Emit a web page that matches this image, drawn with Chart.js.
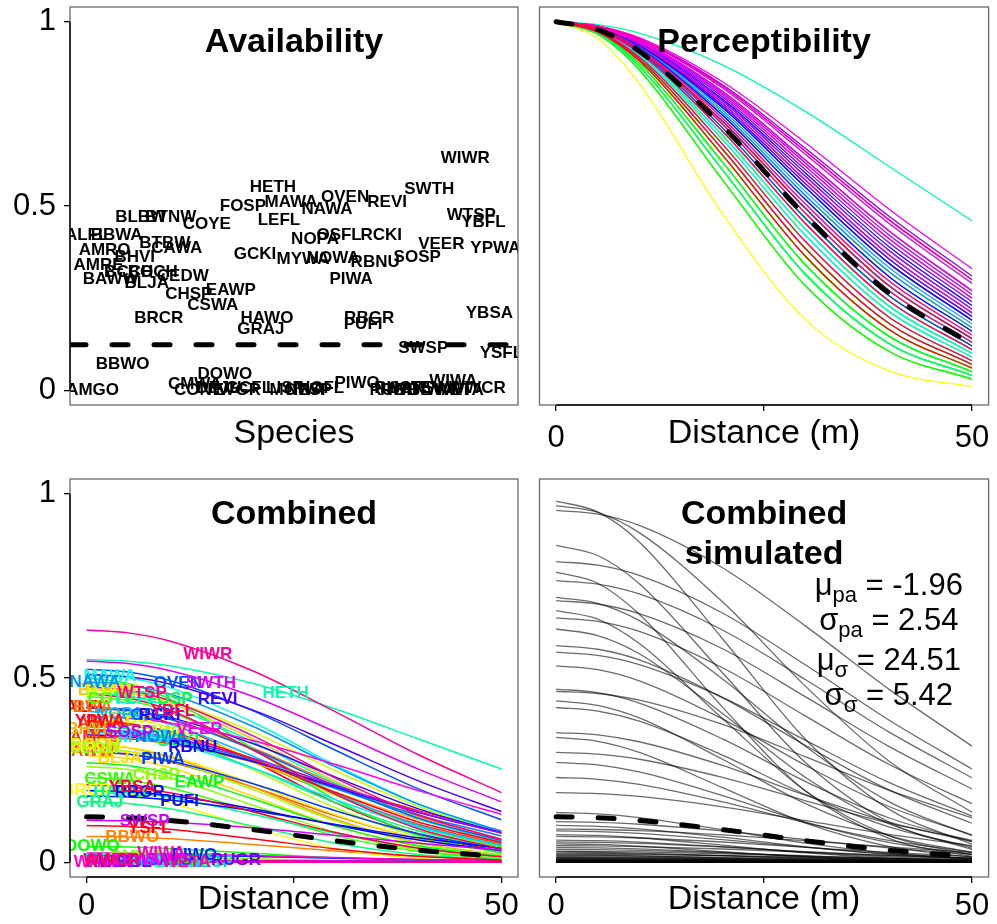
<!DOCTYPE html>
<html>
<head>
<meta charset="utf-8">
<script src="https://cdn.jsdelivr.net/npm/chart.js@4.4.1/dist/chart.umd.min.js"></script>
<style>
  body { margin: 0; background: #fff; }
  #plots { position: relative; width: 997px; height: 924px; }
  #plots canvas { position: absolute; }
</style>
</head>
<body>
<div id="plots">
  <canvas id="avail" width="529" height="462" style="left:0;top:0"></canvas>
  <canvas id="percept" width="468" height="462" style="left:529px;top:0"></canvas>
  <canvas id="combined" width="529" height="462" style="left:0;top:462px"></canvas>
  <canvas id="simulated" width="468" height="462" style="left:529px;top:462px"></canvas>
</div>
<script>
// species codes, in plotting order
const species = ['ALFL','AMGO','AMRE','AMRO','BAWW','BBWA','BBWO','BCCH','BHVI','BLBW',
  'BLJA','BOCH','BRCR','BTBW','BTNW','CAWA','CEDW','CHSP','CMWA','CONW',
  'COYE','CSWA','DEJU','DOWO','EAWP','EVGR','FOSP','GCFL','GCKI','GRAJ',
  'HAWO','HETH','LEFL','LISP','MAWA','MOWA','MYWA','NESP','NOPA','NOFL',
  'NAWA','NOWA','OSFL','OVEN','PIWA','PIWO','PUFI','RBGR','RBNU','RCKI',
  'REVI','RUBL','RUGR','RWBL','SAVS','SOSP','SWSP','SWTH','TEWA','VEER',
  'WAVI','WIWA','WETA','WIWR','WTSP','WWCR','YBFL','YBSA','YPWA','YSFL'];

// probability of availability per species
const avail = [0.42,0.00,0.34,0.38,0.30,0.42,0.07,0.32,0.36,0.47,
  0.29,0.32,0.195,0.40,0.47,0.385,0.31,0.26,0.015,0.00,
  0.45,0.23,0.005,0.043,0.27,0.00,0.50,0.005,0.37,0.165,
  0.195,0.55,0.46,0.005,0.51,0.00,0.354,0.00,0.41,0.005,
  0.49,0.357,0.42,0.524,0.30,0.02,0.18,0.195,0.346,0.42,
  0.51,0.00,0.005,0.00,0.005,0.36,0.114,0.546,0.005,0.395,
  0.00,0.025,0.00,0.63,0.476,0.005,0.457,0.21,0.384,0.10];

// distances (m) at which perceptibility is tabulated
const dist = [0, 5, 10, 20, 30, 40, 50];

// perceptibility per species at each distance
const percept = [
  [1,.974,.899,.654,.384,.182,.070],[1,.978,.915,.703,.452,.243,.110],[1,.986,.946,.801,.607,.412,.250],
  [1,.980,.922,.722,.480,.271,.130],[1,.976,.908,.680,.420,.214,.090],[1,.981,.927,.738,.505,.297,.150],
  [1,.977,.912,.692,.437,.229,.100],[1,.972,.894,.638,.363,.165,.060],[1,.982,.932,.753,.528,.322,.170],
  [1,.979,.919,.712,.466,.257,.120],[1,.970,.887,.619,.340,.147,.050],[1,.975,.904,.668,.403,.199,.080],
  [1,.955,.832,.479,.191,.053,.010],[1,.978,.915,.703,.452,.243,.110],[1,.982,.932,.753,.528,.322,.170],
  [1,.974,.899,.654,.384,.182,.070],[1,.972,.894,.638,.363,.165,.060],[1,.968,.879,.598,.314,.127,.040],
  [1,.970,.887,.619,.340,.147,.050],[1,.966,.869,.571,.283,.106,.030],[1,.976,.908,.680,.420,.214,.090],
  [1,.968,.879,.598,.314,.127,.040],[1,.970,.887,.619,.340,.147,.050],[1,.966,.869,.571,.283,.106,.030],
  [1,.972,.894,.638,.363,.165,.060],[1,.968,.879,.598,.314,.127,.040],[1,.970,.887,.619,.340,.147,.050],
  [1,.974,.899,.654,.384,.182,.070],[1,.977,.912,.692,.437,.229,.100],[1,.968,.879,.598,.314,.127,.040],
  [1,.975,.904,.668,.403,.199,.080],[1,.992,.969,.883,.756,.608,.460],[1,.979,.919,.712,.466,.257,.120],
  [1,.977,.912,.692,.437,.229,.100],[1,.982,.929,.746,.517,.309,.160],[1,.976,.908,.680,.420,.214,.090],
  [1,.980,.922,.722,.480,.271,.130],[1,.981,.924,.730,.493,.284,.140],[1,.978,.915,.703,.452,.243,.110],
  [1,.983,.934,.760,.539,.334,.180],[1,.982,.932,.753,.528,.322,.170],[1,.984,.938,.773,.560,.357,.200],
  [1,.981,.924,.730,.493,.284,.140],[1,.985,.941,.785,.580,.380,.220],[1,.979,.919,.712,.466,.257,.120],
  [1,.984,.936,.767,.550,.345,.190],[1,.984,.940,.779,.570,.368,.210],[1,.982,.929,.746,.517,.309,.160],
  [1,.985,.943,.790,.589,.390,.230],[1,.984,.936,.767,.550,.345,.190],[1,.987,.949,.811,.624,.433,.270],
  [1,.984,.938,.773,.560,.357,.200],[1,.986,.945,.796,.598,.401,.240],[1,.988,.954,.829,.656,.473,.310],
  [1,.987,.948,.806,.616,.422,.260],[1,.985,.941,.785,.580,.380,.220],[1,.988,.952,.820,.640,.453,.290],
  [1,.988,.953,.825,.648,.463,.300],[1,.986,.946,.801,.607,.412,.250],[1,.989,.957,.837,.671,.492,.330],
  [1,.987,.949,.811,.624,.433,.270],[1,.981,.927,.738,.505,.297,.150],[1,.984,.940,.779,.570,.368,.210],
  [1,.988,.953,.825,.648,.463,.300],[1,.980,.922,.722,.480,.271,.130],[1,.978,.915,.703,.452,.243,.110],
  [1,.975,.904,.668,.403,.199,.080],[1,.974,.899,.654,.384,.182,.070],[1,.981,.924,.730,.493,.284,.140],
  [1,.972,.894,.638,.363,.165,.060]];

// community means
const meanAvail = 0.1235;
const meanPercept = [1,.979,.920,.717,.473,.264,.125];

// distance (m) where each species code is written on the combined panel
const labelDist = [0,3,1,2,0,0,5.5,1,0,2, 4,1,0,5,3,9,1,8.4,6,10,
  3,2.8,12,0.7,13.6,8,10,14,11,1.6, 4,24,6,2,2.8,7,7,15,4,9,
  1,9,8,11,9.2,13,11.2,6.4,12.8,8.8, 15.8,5,18,3,10,5.2,7,15,6,13.6,
  1,9,12,14.6,6.7,3,10.4,5.5,1.6,7.6];

// simulated community: availability and perceptibility per species
const simAvail = [0.980,0.968,0.955,0.860,0.816,0.787,0.764,0.719,0.710,0.683,
  0.663,0.633,0.588,0.570,0.533,0.470,0.464,0.438,0.420,0.352,
  0.339,0.298,0.271,0.230,0.189,0.135,0.110,0.100,0.090,0.085,
  0.075,0.070,0.060,0.055,0.050,0.045,0.040,0.035,0.030,0.028,
  0.025,0.022,0.020,0.018,0.015,0.013,0.012,0.010,0.009,0.008,
  0.007,0.006,0.005,0.004,0.004,0.003,0.003,0.002,0.002,0.002,
  0.001,0.001,0.001,0.001,0.0005,0.0005,0.0003,0.0002,0.0001,0.0001];

const simPercept = [
  [1,.970,.887,.619,.340,.147,.050],[1,.981,.924,.730,.493,.284,.140],[1,.989,.957,.837,.671,.492,.330],
  [1,.968,.879,.598,.314,.127,.040],[1,.988,.954,.829,.656,.473,.310],[1,.962,.855,.535,.245,.082,.020],
  [1,.988,.953,.825,.648,.463,.300],[1,.977,.912,.692,.437,.229,.100],[1,.987,.950,.816,.632,.443,.280],
  [1,.966,.869,.571,.283,.106,.030],[1,.986,.945,.796,.598,.401,.240],[1,.972,.894,.638,.363,.165,.060],
  [1,.983,.934,.760,.539,.334,.180],[1,.985,.941,.785,.580,.380,.220],[1,.981,.924,.730,.493,.284,.140],
  [1,.979,.919,.712,.466,.257,.120],[1,.987,.948,.806,.616,.422,.260],[1,.972,.894,.638,.363,.165,.060],
  [1,.977,.912,.692,.437,.229,.100],[1,.982,.929,.746,.517,.309,.160],[1,.968,.879,.598,.314,.127,.040],
  [1,.984,.938,.773,.560,.357,.200],[1,.975,.904,.668,.403,.199,.080],[1,.979,.919,.712,.466,.257,.120],
  [1,.986,.945,.796,.598,.401,.240],[1,.974,.899,.654,.384,.182,.070],[1,.984,.938,.773,.560,.357,.200],
  [1,.976,.908,.680,.420,.214,.090],[1,.988,.953,.825,.648,.463,.300],[1,.980,.922,.722,.480,.271,.130],
  [1,.970,.887,.619,.340,.147,.050],[1,.985,.941,.785,.580,.380,.220],[1,.978,.915,.703,.452,.243,.110],
  [1,.982,.932,.753,.528,.322,.170],[1,.966,.869,.571,.283,.106,.030],[1,.986,.946,.801,.607,.412,.250],
  [1,.975,.904,.668,.403,.199,.080],[1,.981,.927,.738,.505,.297,.150],[1,.984,.936,.767,.550,.345,.190],
  [1,.972,.894,.638,.363,.165,.060],[1,.979,.919,.712,.466,.257,.120],[1,.987,.949,.811,.624,.433,.270],
  [1,.968,.879,.598,.314,.127,.040],[1,.982,.929,.746,.517,.309,.160],[1,.977,.912,.692,.437,.229,.100],
  [1,.984,.940,.779,.570,.368,.210],[1,.974,.899,.654,.384,.182,.070],[1,.981,.924,.730,.493,.284,.140],
  [1,.983,.934,.760,.539,.334,.180],[1,.970,.887,.619,.340,.147,.050],[1,.985,.943,.790,.589,.390,.230],
  [1,.976,.908,.680,.420,.214,.090],[1,.980,.922,.722,.480,.271,.130],[1,.962,.855,.535,.245,.082,.020],
  [1,.982,.932,.753,.528,.322,.170],[1,.978,.915,.703,.452,.243,.110],[1,.988,.952,.820,.640,.453,.290],
  [1,.975,.904,.668,.403,.199,.080],[1,.981,.927,.738,.505,.297,.150],[1,.979,.919,.712,.466,.257,.120],
  [1,.984,.936,.767,.550,.345,.190],[1,.972,.894,.638,.363,.165,.060],[1,.977,.912,.692,.437,.229,.100],
  [1,.986,.946,.801,.607,.412,.250],[1,.981,.924,.730,.493,.284,.140],[1,.976,.908,.680,.420,.214,.090],
  [1,.982,.929,.746,.517,.309,.160],[1,.978,.915,.703,.452,.243,.110],[1,.984,.938,.773,.560,.357,.200],
  [1,.979,.919,.712,.466,.257,.120]];

// hyper-parameters printed on the simulated panel
const statSymbols = ['\u03BC', '\u03C3', '\u03BC', '\u03C3'];
const statSubs = ['pa', 'pa', '\u03C3', '\u03C3'];
const statValues = ['-1.96', '2.54', '24.51', '5.42'];

const FONT = '"Liberation Sans", Arial, Helvetica, sans-serif';
Chart.defaults.font.family = FONT;
Chart.defaults.color = '#000';

const N = species.length;
const hue = i => `hsl(${(i / N) * 360}, 100%, 50%)`;
const curve = row => row.map((v, k) => ({ x: dist[k], y: v }));

function atDist(row, d) {
  let k = 1;
  while (k < dist.length - 1 && dist[k] < d) k++;
  const t = (d - dist[k - 1]) / (dist[k] - dist[k - 1]);
  return row[k - 1] + t * (row[k] - row[k - 1]);
}

const combined = percept.map((row, i) => row.map(p => p * avail[i]));
const meanCombined = meanPercept.map(p => p * meanAvail);
const simCombined = simPercept.map((row, i) => row.map(p => p * simAvail[i]));

// box, axis lines, panel title and optional text block
const frame = {
  id: 'frame',
  afterDraw(chart, args, o) {
    const { ctx, chartArea: a, scales } = chart;
    ctx.save();
    ctx.strokeStyle = '#6a6a6a';
    ctx.lineWidth = 1.3;
    ctx.strokeRect(a.left, a.top, a.right - a.left, a.bottom - a.top);
    ctx.strokeStyle = '#000';
    ctx.lineWidth = 1.4;
    if (o.xAxis) {
      ctx.beginPath();
      ctx.moveTo(scales.x.getPixelForValue(0), a.bottom);
      ctx.lineTo(scales.x.getPixelForValue(50), a.bottom);
      ctx.stroke();
    }
    if (o.yAxis) {
      ctx.beginPath();
      ctx.moveTo(a.left, scales.y.getPixelForValue(0));
      ctx.lineTo(a.left, scales.y.getPixelForValue(1));
      ctx.stroke();
    }
    ctx.fillStyle = '#000';
    ctx.textAlign = 'center';
    ctx.textBaseline = 'alphabetic';
    ctx.font = 'bold 34px ' + FONT;
    o.title.forEach((t, k) => ctx.fillText(t, (a.left + a.right) / 2, a.top + 45 + k * 40));
    if (o.stats) {
      ctx.textAlign = 'left';
      statSymbols.forEach((sym, k) => {
        const big = '31px ' + FONT, small = '22px ' + FONT;
        const rest = ' = ' + statValues[k];
        ctx.font = big;
        const w1 = ctx.measureText(sym).width, w3 = ctx.measureText(rest).width;
        ctx.font = small;
        const w2 = ctx.measureText(statSubs[k]).width;
        let x = scales.x.getPixelForValue(40) - (w1 + w2 + w3) / 2;
        const y = scales.y.getPixelForValue(o.stats[k]) + 11;
        ctx.font = big; ctx.fillText(sym, x, y); x += w1;
        ctx.font = small; ctx.fillText(statSubs[k], x, y + 7); x += w2;
        ctx.font = big; ctx.fillText(rest, x, y);
      });
    }
    ctx.restore();
  }
};

// writes species codes at the points of datasets that carry tags
const tags = {
  id: 'tags',
  afterDatasetsDraw(chart) {
    const { ctx, chartArea: a } = chart;
    ctx.save();
    ctx.beginPath();
    ctx.rect(a.left, a.top, a.right - a.left, a.bottom - a.top);
    ctx.clip();
    ctx.font = 'bold 17px ' + FONT;
    ctx.textAlign = 'center';
    ctx.textBaseline = 'middle';
    chart.data.datasets.forEach((ds, k) => {
      if (!ds.tags) return;
      chart.getDatasetMeta(k).data.forEach((pt, j) => {
        ctx.fillStyle = Array.isArray(ds.tagColor) ? ds.tagColor[j] : ds.tagColor;
        ctx.fillText(ds.tags[j], pt.x, pt.y);
      });
    });
    ctx.restore();
  }
};

function xScale(o) {
  return {
    type: 'linear', min: o.min, max: o.max,
    afterFit: s => { s.height = o.height; s.paddingLeft = 0; s.paddingRight = 0; },
    afterBuildTicks: s => { s.ticks = o.ticks ? [0, 25, 50].map(v => ({ value: v })) : []; },
    ticks: { display: !!o.ticks, font: { size: 31 }, padding: o.pad, maxRotation: 0, autoSkip: false,
      callback: v => (v === 25 ? '' : String(v)) },
    grid: { display: !!o.ticks, drawOnChartArea: false, drawTicks: true, tickLength: 6, color: '#000', lineWidth: 1.3 },
    border: { display: false },
    title: { display: true, text: o.title, font: { size: 34 }, padding: { top: 0, bottom: o.titlePad } }
  };
}

function yScale(o) {
  return {
    type: 'linear', min: -0.04, max: 1.04,
    afterFit: s => { s.width = o.width; s.paddingTop = 0; s.paddingBottom = 0; },
    afterBuildTicks: s => { s.ticks = o.ticks ? [0, 0.5, 1].map(v => ({ value: v })) : []; },
    ticks: { display: !!o.ticks, font: { size: 31 }, padding: 8, autoSkip: false, callback: v => String(v) },
    grid: { display: !!o.ticks, drawOnChartArea: false, drawTicks: true, tickLength: 6, color: '#000', lineWidth: 1.3 },
    border: { display: false }
  };
}

function baseOptions(scales, padding, frameOpts) {
  return {
    responsive: false, animation: false, events: [],
    layout: { padding },
    scales,
    plugins: { legend: { display: false }, tooltip: { enabled: false }, frame: frameOpts }
  };
}

const lineStyle = { pointRadius: 0, fill: false, cubicInterpolationMode: 'monotone', tension: 0.4 };
const dashStyle = { borderColor: '#000', borderWidth: 5, borderDash: [16, 26], borderCapStyle: 'round' };

// availability by species
const xLo = 1 - 0.04 * (N - 1), xHi = N + 0.04 * (N - 1);
new Chart(document.getElementById('avail'), {
  type: 'line',
  data: {
    datasets: [
      { data: species.map((s, i) => ({ x: i + 1, y: avail[i] })), showLine: false, pointRadius: 0,
        tags: species, tagColor: '#000', order: 1 },
      { data: [{ x: xLo, y: meanAvail }, { x: xHi, y: meanAvail }], pointRadius: 0, ...dashStyle, order: 0 }
    ]
  },
  options: baseOptions(
    { x: xScale({ min: xLo, max: xHi, height: 57, title: 'Species', titlePad: 8 }), y: yScale({ width: 70, ticks: true }) },
    { top: 7, right: 11, left: 0, bottom: 0 },
    { title: ['Availability'], yAxis: true }),
  plugins: [frame, tags]
});

// perceptibility curves
new Chart(document.getElementById('percept'), {
  type: 'line',
  data: {
    datasets: percept.map((row, i) => ({ data: curve(row), borderColor: hue(i), borderWidth: 1.3, order: N - i, ...lineStyle }))
      .concat([{ data: curve(meanPercept), ...lineStyle, ...dashStyle, order: 0 }])
  },
  options: baseOptions(
    { x: xScale({ min: -2, max: 52, height: 57, ticks: true, pad: 9, title: 'Distance (m)', titlePad: 8 }), y: yScale({ width: 10.5 }) },
    { top: 7, right: 8.4, left: 0, bottom: 0 },
    { title: ['Perceptibility'], xAxis: true }),
  plugins: [frame]
});

// availability x perceptibility
new Chart(document.getElementById('combined'), {
  type: 'line',
  data: {
    datasets: combined.map((row, i) => ({ data: curve(row), borderColor: hue(i), borderWidth: 1.5, order: N - i + 2, ...lineStyle }))
      .concat([
        { data: curve(meanCombined), ...lineStyle, ...dashStyle, order: 1 },
        { data: species.map((s, i) => ({ x: labelDist[i], y: atDist(combined[i], labelDist[i]) })), showLine: false,
          pointRadius: 0, tags: species, tagColor: species.map((s, i) => hue(i)), order: 0 }
      ])
  },
  options: baseOptions(
    { x: xScale({ min: -2, max: 52, height: 47, ticks: true, pad: 5, title: 'Distance (m)', titlePad: 4 }), y: yScale({ width: 70, ticks: true }) },
    { top: 17, right: 11, left: 0, bottom: 0 },
    { title: ['Combined'], xAxis: true, yAxis: true }),
  plugins: [frame, tags]
});

// simulated community
new Chart(document.getElementById('simulated'), {
  type: 'line',
  data: {
    datasets: simCombined.map((row, i) => ({ data: curve(row), borderColor: 'rgba(0,0,0,0.58)', borderWidth: 1.3, order: N - i + 1, ...lineStyle }))
      .concat([{ data: curve(meanCombined), ...lineStyle, ...dashStyle, order: 0 }])
  },
  options: baseOptions(
    { x: xScale({ min: -2, max: 52, height: 47, ticks: true, pad: 5, title: 'Distance (m)', titlePad: 4 }), y: yScale({ width: 10.5 }) },
    { top: 17, right: 8.4, left: 0, bottom: 0 },
    { title: ['Combined', 'simulated'], xAxis: true, stats: [0.755, 0.66, 0.552, 0.457] }),
  plugins: [frame]
});
</script>
</body>
</html>
